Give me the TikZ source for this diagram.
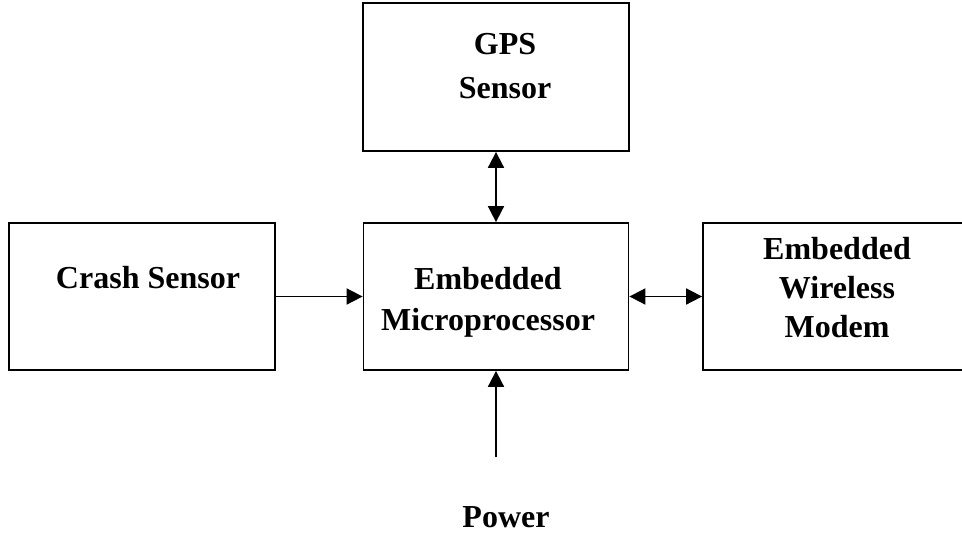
\documentclass[tikz,border=0pt]{standalone}
\usepackage{fontspec}
\setmainfont{Liberation Serif}
\usetikzlibrary{arrows.meta}

\begin{document}
\begin{tikzpicture}[x=1pt,y=-1pt,
    block/.style={draw,line width=1.8pt,minimum width=266pt,minimum height=147pt,inner sep=0pt},
    txt/.style={align=center,font=\fontsize{32}{40}\selectfont\bfseries,inner sep=0pt},
    link/.style={line width=1.8pt,-{Triangle[length=16pt,width=16pt]}},
    dlink/.style={line width=1.8pt,{Triangle[length=16pt,width=16pt]}-{Triangle[length=16pt,width=16pt]}}]
        % frame
        \useasboundingbox (0,0) rectangle (962,533);

        % blocks
        \node[block,minimum height=148pt] (gps) at (496,77) {};
        \node[block] (crash) at (142,296.5) {};
        \node[block,minimum width=265pt] (micro) at (496,296.5) {};
        \node[block,minimum width=260pt] (modem) at (833,296.5) {};

        % labels
        \node[txt,font=\fontsize{32}{44}\selectfont\bfseries] (gpstxt) at (505,66) {GPS\\Sensor};
        \node[txt] (crashtxt) at (148,278) {Crash Sensor};
        \node[txt,font=\fontsize{32}{41}\selectfont\bfseries] (microtxt) at (488,302) {Embedded\\Microprocessor};
        \node[txt,font=\fontsize{32}{39}\selectfont\bfseries] (modemtxt) at (837,288) {Embedded\\Wireless\\Modem};
        \node[txt] (power) at (506,517) {Power};

        % links
        \coordinate (pwr) at (496,457);
        \draw[dlink] (gps.south) -- (micro.north);
        \draw[link] (crash.east) -- (micro.west);
        \draw[dlink] (micro.east) -- (modem.west);
        \draw[link] (pwr) -- (micro.south);
\end{tikzpicture}
\end{document}
